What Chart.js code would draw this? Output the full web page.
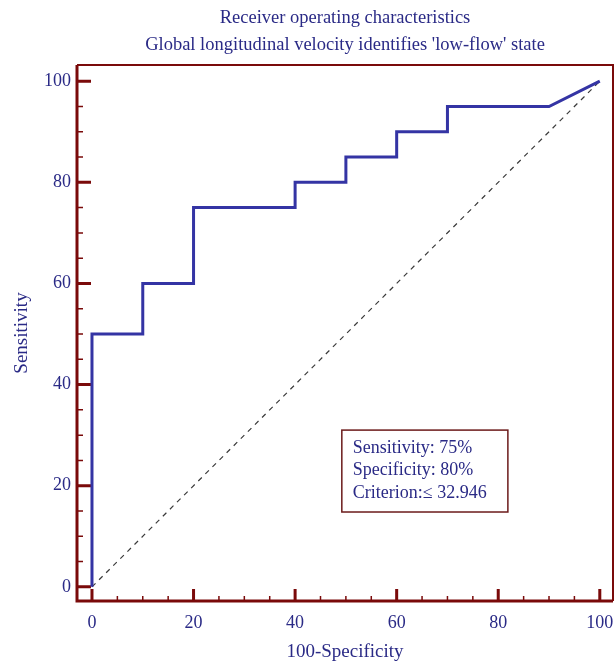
<!DOCTYPE html>
<html>
<head>
<meta charset="utf-8">
<script src="https://cdn.jsdelivr.net/npm/chart.js@4.4.1/dist/chart.umd.min.js"></script>
<style>
  html, body { margin: 0; padding: 0; background: #fff; }
</style>
</head>
<body>
<canvas id="chart" width="614" height="663"></canvas>
<script>
// ROC curve points (100-Specificity, Sensitivity)
const fpr = [0, 0, 10, 10, 20, 20, 40, 40, 50, 50, 60, 60, 70, 70, 90, 100];
const tpr = [0, 50, 50, 60, 60, 75, 75, 80, 80, 85, 85, 90, 90, 95, 95, 100];
// chance line
const refX = [0, 100];
const refY = [0, 100];
// axis ticks
const majorTicks = [0, 20, 40, 60, 80, 100];
const minorTicks = [5, 10, 15, 25, 30, 35, 45, 50, 55, 65, 70, 75, 85, 90, 95];
const titleLines = ['Receiver operating characteristics', "Global longitudinal velocity identifies 'low-flow' state"];
const statLines = ['Sensitivity: 75%', 'Specificity: 80%', 'Criterion:\u2264 32.946'];

const AXIS = '#7a0a0a';
const NAVY = '#2a2a86';
const SERIF = "'Liberation Serif', 'DejaVu Serif', serif";

// frame + inward tick marks
const framePlugin = {
  id: 'frame',
  beforeDatasetsDraw(chart) {
    const { ctx, chartArea: a, scales: { x, y } } = chart;
    ctx.save();
    ctx.strokeStyle = AXIS;
    ctx.lineCap = 'butt';
    // top and right, thinner
    ctx.lineWidth = 2;
    ctx.beginPath();
    ctx.moveTo(a.left, a.top); ctx.lineTo(a.right, a.top); ctx.lineTo(a.right, a.bottom);
    ctx.stroke();
    // left and bottom axes
    ctx.lineWidth = 3;
    ctx.beginPath();
    ctx.moveTo(a.left, a.top); ctx.lineTo(a.left, a.bottom); ctx.lineTo(a.right, a.bottom);
    ctx.stroke();
    // major ticks
    ctx.lineWidth = 3;
    ctx.beginPath();
    majorTicks.forEach(v => {
      const px = x.getPixelForValue(v);
      ctx.moveTo(px, a.bottom); ctx.lineTo(px, a.bottom - 12);
      const py = y.getPixelForValue(v);
      ctx.moveTo(a.left, py); ctx.lineTo(a.left + 14, py);
    });
    ctx.stroke();
    // minor ticks
    ctx.lineWidth = 1.5;
    ctx.beginPath();
    minorTicks.forEach(v => {
      const px = x.getPixelForValue(v);
      ctx.moveTo(px, a.bottom); ctx.lineTo(px, a.bottom - 5);
      const py = y.getPixelForValue(v);
      ctx.moveTo(a.left, py); ctx.lineTo(a.left + 6, py);
    });
    ctx.stroke();
    ctx.restore();
  }
};

// summary box in the lower right of the plot
const statBoxPlugin = {
  id: 'statBox',
  afterDatasetsDraw(chart) {
    const { ctx, scales: { x, y } } = chart;
    const l = x.getPixelForValue(49.2), r = x.getPixelForValue(81.9);
    const t = y.getPixelForValue(31.0), b = y.getPixelForValue(14.8);
    ctx.save();
    ctx.fillStyle = '#fff';
    ctx.fillRect(l, t, r - l, b - t);
    ctx.strokeStyle = '#6b1a1a';
    ctx.lineWidth = 1.5;
    ctx.strokeRect(l, t, r - l, b - t);
    ctx.fillStyle = NAVY;
    ctx.font = '18px ' + SERIF;
    ctx.textBaseline = 'middle';
    statLines.forEach((s, i) => ctx.fillText(s, l + 11, t + 18 + i * 22.5));
    ctx.restore();
  }
};

const ctx = document.getElementById('chart').getContext('2d');
const chart = new Chart(ctx, {
  type: 'scatter',
  data: {
    datasets: [
      {
        label: 'ROC',
        data: fpr.map((v, i) => ({ x: v, y: tpr[i] })),
        showLine: true,
        borderColor: '#3434a4',
        borderWidth: 3,
        pointRadius: 0,
        tension: 0,
        order: 1
      },
      {
        label: 'Reference',
        data: refX.map((v, i) => ({ x: v, y: refY[i] })),
        showLine: true,
        borderColor: '#3a3a3a',
        borderWidth: 1.2,
        borderDash: [5, 5],
        pointRadius: 0,
        order: 2
      }
    ]
  },
  options: {
    responsive: false,
    animation: false,
    layout: { padding: { right: 1 } },
    plugins: {
      legend: { display: false },
      tooltip: { enabled: false },
      title: {
        display: true,
        fullSize: false,
        text: titleLines,
        color: NAVY,
        font: { family: SERIF, size: 18.5, weight: 'normal', lineHeight: 1.46 },
        padding: { top: 5, bottom: 6 }
      }
    },
    scales: {
      x: {
        type: 'linear',
        min: -2.95,
        max: 102.6,
        afterBuildTicks: s => { s.ticks = majorTicks.map(v => ({ value: v })); },
        afterFit: s => { s.height = 62; s.paddingLeft = 0; s.paddingRight = 0; },
        grid: { display: false, drawTicks: false, tickLength: 0 },
        border: { display: false },
        ticks: { color: NAVY, padding: 11, font: { family: SERIF, size: 18 } },
        title: {
          display: true,
          text: '100-Specificity',
          color: NAVY,
          font: { family: SERIF, size: 19 },
          padding: { top: 0, bottom: 0 }
        }
      },
      y: {
        type: 'linear',
        min: -2.8,
        max: 103.2,
        afterBuildTicks: s => { s.ticks = majorTicks.map(v => ({ value: v })); },
        afterFit: s => { s.width = 77; s.paddingTop = 0; s.paddingBottom = 0; },
        grid: { display: false, drawTicks: false, tickLength: 0 },
        border: { display: false },
        ticks: { color: NAVY, padding: 6, font: { family: SERIF, size: 18 } },
        title: {
          display: true,
          text: 'Sensitivity',
          color: NAVY,
          font: { family: SERIF, size: 19 },
          padding: { top: 11, bottom: 0 }
        }
      }
    }
  },
  plugins: [framePlugin, statBoxPlugin]
});
</script>
</body>
</html>
